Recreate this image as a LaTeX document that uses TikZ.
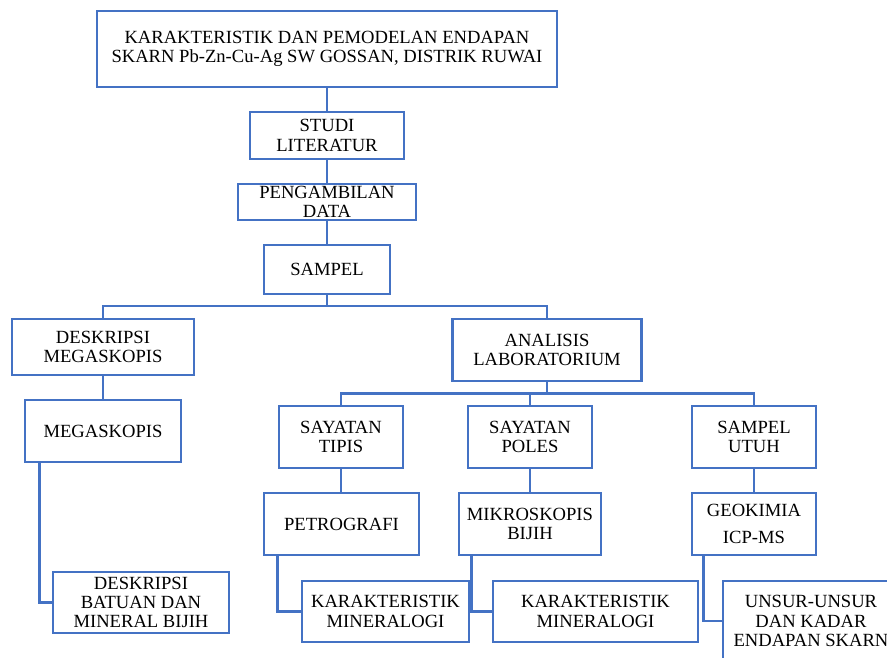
\documentclass[tikz,border=0pt]{standalone}
\usepackage{fontspec}
\setmainfont{Liberation Serif}
\definecolor{boxblue}{RGB}{68,114,196}
\begin{document}
\begin{tikzpicture}[x=1pt,y=-1pt,
  box/.style={draw=boxblue, line width=2.6pt, fill=white, inner sep=0pt, align=center,
    font=\fontsize{18.6}{19.3}\selectfont, text=black},
  conn/.style={draw=boxblue, line width=2.6pt}]
\useasboundingbox (0,0) rectangle (887,657);
\clip (0,0) rectangle (887,657);
\fill[white] (0,0) rectangle (887,657);

\node[box, minimum width=460, minimum height=76] (title) at (327,49)
  {KARAKTERISTIK DAN PEMODELAN ENDAPAN\\SKARN Pb-Zn-Cu-Ag SW GOSSAN, DISTRIK RUWAI};
\node[box, minimum width=154, minimum height=47] (studi) at (327,135.5) {STUDI\\LITERATUR};
\node[box, minimum width=178, minimum height=36] (ambil) at (327,202) {PENGAMBILAN\\DATA};
\node[box, minimum width=126, minimum height=49] (sampel) at (327,269.5) {SAMPEL};

\node[box, minimum width=182, minimum height=56] (deskmega) at (103,347) {DESKRIPSI\\MEGASKOPIS};
\node[box, minimum width=189, minimum height=62] (analisis) at (547,350) {ANALISIS\\LABORATORIUM};
\node[box, minimum width=156, minimum height=62] (mega) at (103,431) {MEGASKOPIS};
\node[box, minimum width=176, minimum height=61] (deskbat) at (141,602.5) {DESKRIPSI\\BATUAN DAN\\MINERAL BIJIH};

\node[box, minimum width=124, minimum height=62] (tipis) at (341,437) {SAYATAN\\TIPIS};
\node[box, minimum width=124, minimum height=62] (poles) at (530,437) {SAYATAN\\POLES};
\node[box, minimum width=124, minimum height=62] (utuh) at (754,437) {SAMPEL\\UTUH};

\node[box, minimum width=155, minimum height=62] (petro) at (341.5,524) {PETROGRAFI};
\node[box, minimum width=142, minimum height=62] (mikro) at (530,524) {MIKROSKOPIS\\BIJIH};
\node[box, minimum width=124, minimum height=62] (geo) at (754,524) {GEOKIMIA\\[8pt]ICP-MS};

\node[box, minimum width=167, minimum height=61] (kar1) at (385.5,611.5) {KARAKTERISTIK\\MINERALOGI};
\node[box, minimum width=205, minimum height=61] (kar2) at (595.5,611.5) {KARAKTERISTIK\\MINERALOGI};
\node[box, minimum width=176, minimum height=80] (unsur) at (811,621) {UNSUR-UNSUR\\DAN KADAR\\ENDAPAN SKARN};

\coordinate (j1) at (327,306);
\coordinate (j2) at (547,393.5);

\draw[conn] (title.south) -- (studi.north);
\draw[conn] (studi.south) -- (ambil.north);
\draw[conn] (ambil.south) -- (sampel.north);
\draw[conn] (sampel.south) -- (j1);
\draw[conn] (deskmega.north) |- (j1) -| (analisis.north);
\draw[conn] (deskmega.south) -- (mega.north);
\draw[conn] ([xshift=16pt]mega.south west) |- (deskbat.west);
\draw[conn] (analisis.south) -- (j2);
\draw[conn] (tipis.north) |- (j2) -| (utuh.north);
\draw[conn] (poles.north) -- (poles.north |- j2);
\draw[conn] (tipis.south) -- (tipis.south |- petro.north);
\draw[conn] (poles.south) -- (mikro.north);
\draw[conn] (utuh.south) -- (geo.north);
\draw[conn] ([xshift=15pt]petro.south west) |- (kar1.west);
\draw[conn] ([xshift=14pt]mikro.south west) |- (kar2.west);
\draw[conn] ([xshift=13pt]geo.south west) |- (unsur.west);
\end{tikzpicture}
\end{document}
